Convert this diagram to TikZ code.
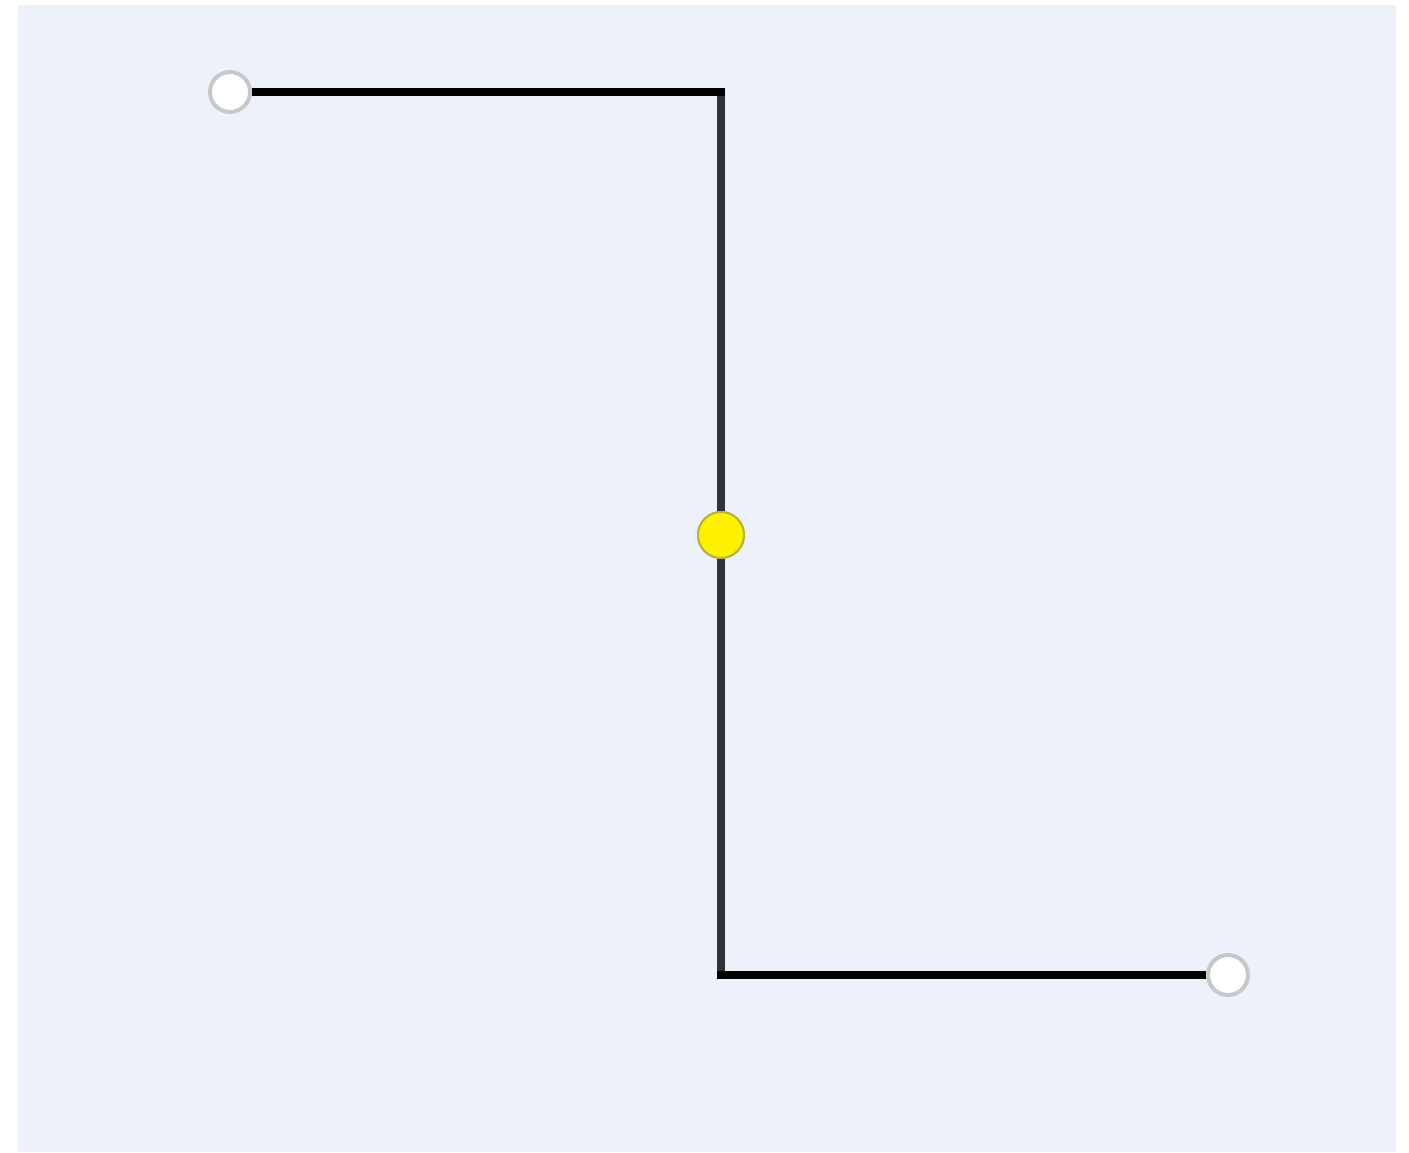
\documentclass[tikz,border=0pt]{standalone}
\usetikzlibrary{calc}
\definecolor{bgblue}{HTML}{ECF1FA}
\definecolor{ringgray}{HTML}{C6C8CC}
\definecolor{yelborder}{HTML}{B8B23A}
\definecolor{vline}{HTML}{2E3338}
\begin{document}
\begin{tikzpicture}[x=1pt,y=-1pt,
  endpt/.style={circle,draw=ringgray,fill=white,line width=4pt,minimum size=40pt,inner sep=0pt},
  midpt/.style={circle,draw=yelborder,fill=yellow,line width=2pt,minimum size=46pt,inner sep=0pt},
  hseg/.style={draw=black,line width=8.5pt},
  vseg/.style={draw=vline,line width=8pt}]
\useasboundingbox (0,0) rectangle (1409,1152);
\fill[white] (0,0) rectangle (1409,1152);
\fill[bgblue] (18,5) rectangle (1396,1152);
\coordinate (c1) at (721,92);
\coordinate (c2) at (721,975);
\node[endpt] (a) at (230,92) {};
\node[midpt] (m) at (721,535) {};
\node[endpt] (b) at (1228,975) {};
\draw[vseg] (c1) -- (m);
\draw[vseg] (m) -- (c2);
\draw[hseg] (a) -- ($(c1)+(4,0)$);
\draw[hseg] ($(c2)+(-4,0)$) -- (b);
\node[midpt] at (m) {};
\end{tikzpicture}
\end{document}
